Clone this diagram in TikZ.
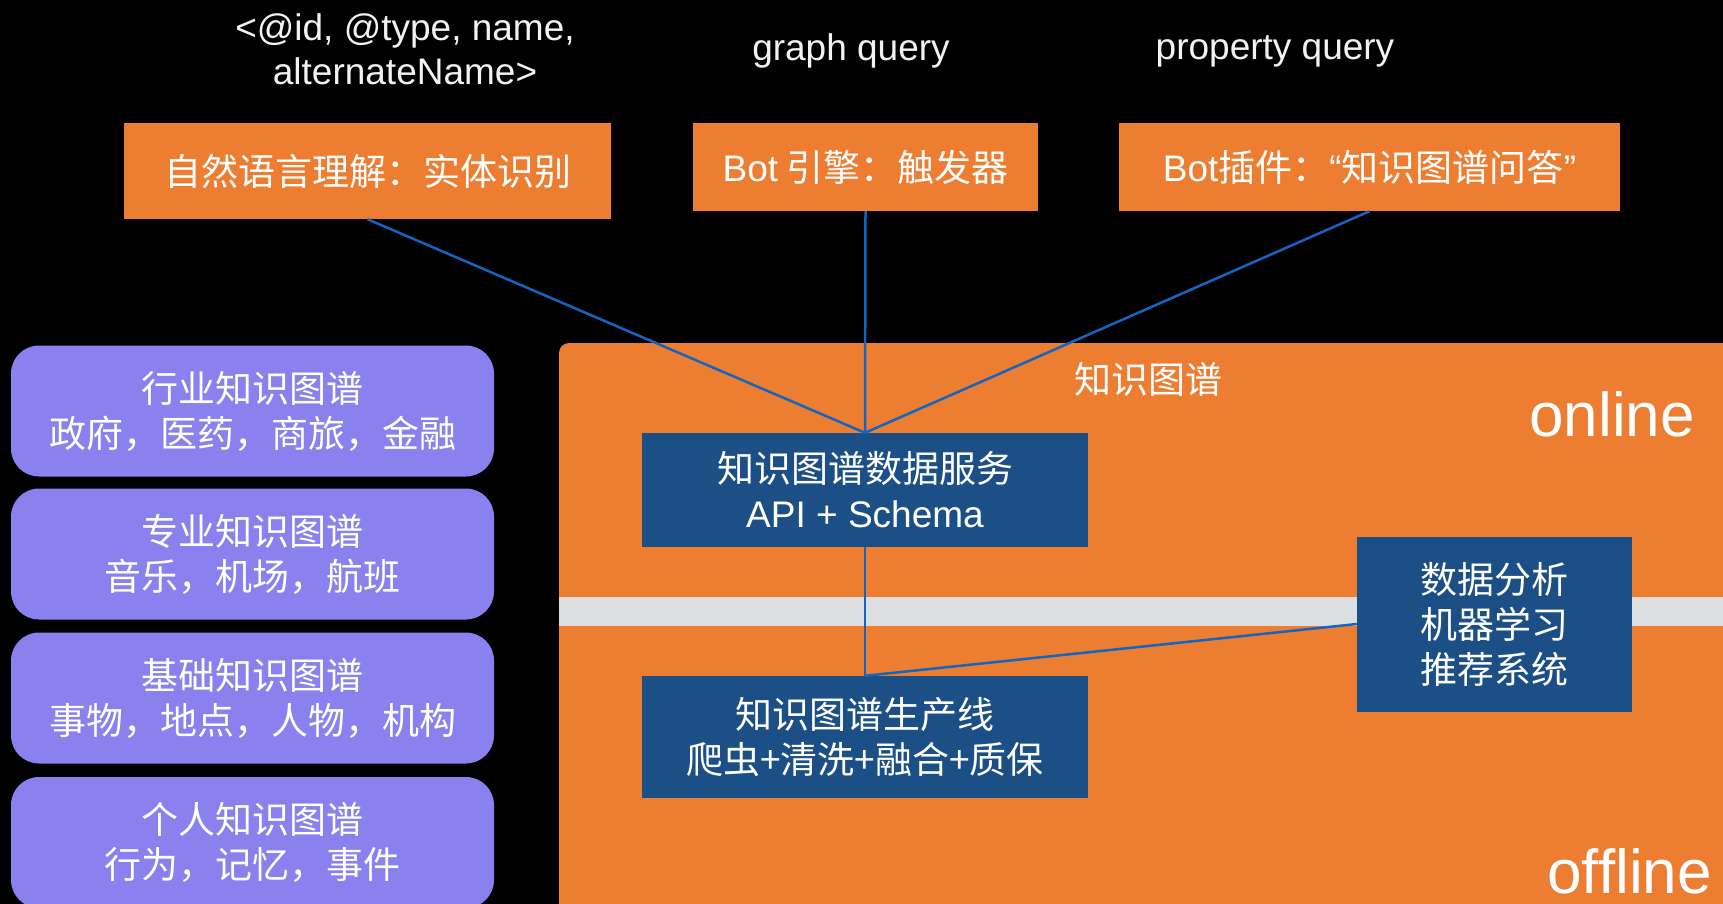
\documentclass[tikz,border=0pt]{standalone}
\usepackage{fontspec}
\setmainfont{Liberation Sans}
\newfontfamily\cjk{Noto Sans CJK SC}
\newfontfamily\lat{Liberation Sans}
\definecolor{korange}{HTML}{ED7D31}
\definecolor{kpurple}{HTML}{8881EE}
\definecolor{kblue}{HTML}{1B4F86}
\definecolor{kline}{HTML}{1465C2}
\definecolor{kgray}{HTML}{DDDEDF}
\definecolor{klabel}{HTML}{F2F2F2}
\tikzset{
  base/.style={inner sep=0pt, align=center, text=white, font=\cjk\fontsize{37}{45}\selectfont},
  obox/.style={base, fill=korange},
  bbox/.style={base, fill=kblue},
  pbox/.style={base, fill=kpurple, rounded corners=28pt, minimum width=483pt, minimum height=131pt},
  toplabel/.style={inner sep=0pt, align=center, text=klabel, font=\lat\fontsize{37}{44}\selectfont},
  bigword/.style={inner sep=0pt, text=white, font=\lat\fontsize{62}{70}\selectfont},
  conn/.style={draw=kline, line width=2.5pt}
}
\begin{document}
\begin{tikzpicture}[x=1pt,y=-1pt]
\useasboundingbox (0,0) rectangle (1723,904);
\clip (0,0) rectangle (1723,904);
\fill[black] (0,0) rectangle (1723,904);
% big orange panel
\fill[korange, rounded corners=10pt] (559,343) rectangle (1760,940);
\fill[kgray] (559,597) rectangle (1723,626);
% labels at top
\node[toplabel] (lab1) at (405,49) {<@id, @type, name,\\alternateName>};
\node[toplabel] (lab2) at (851,51) {graph query};
\node[toplabel] (lab3) at (1275,51) {property query};
% top boxes
\node[obox, minimum width=487pt, minimum height=96pt] (nlu) at (367.5,171) {自然语言理解：实体识别};
\node[obox, minimum width=345pt, minimum height=88pt] (bot) at (865.5,167) {{\lat Bot} 引擎：触发器};
\node[obox, minimum width=501pt, minimum height=88pt] (plugin) at (1369.5,167) {{\lat Bot}插件：{\lat “}知识图谱问答{\lat ”}};
% panel labels
\node[base] (kg) at (1148,379) {知识图谱};
\node[bigword, anchor=base east] (online) at (1695,436) {online};
\node[bigword, anchor=base east] (offline) at (1712,893) {offline};
% inner boxes
\node[bbox, minimum width=446pt, minimum height=114pt] (svc) at (865,490) {知识图谱数据服务\\{\lat API + Schema}};
\node[bbox, minimum width=446pt, minimum height=122pt] (pipe) at (865,737) {知识图谱生产线\\爬虫+清洗+融合+质保};
\node[bbox, minimum width=275pt, minimum height=175pt] (ana) at (1494.5,624) {数据分析\\机器学习\\推荐系统};
% connectors
\draw[conn] (nlu.south) -- (svc.north);
\draw[conn] (bot.south) -- (svc.north);
\draw[conn] (plugin.south) -- (svc.north);
\draw[conn] (svc.south) -- (pipe.north);
\draw[conn] (pipe.north) -- (ana.west);
% left purple boxes
\node[pbox] (p1) at (252.5,411) {行业知识图谱\\政府，医药，商旅，金融};
\node[pbox] (p2) at (252.5,554) {专业知识图谱\\音乐，机场，航班};
\node[pbox] (p3) at (252.5,698) {基础知识图谱\\事物，地点，人物，机构};
\node[pbox] (p4) at (252.5,842.5) {个人知识图谱\\行为，记忆，事件};
\end{tikzpicture}
\end{document}
